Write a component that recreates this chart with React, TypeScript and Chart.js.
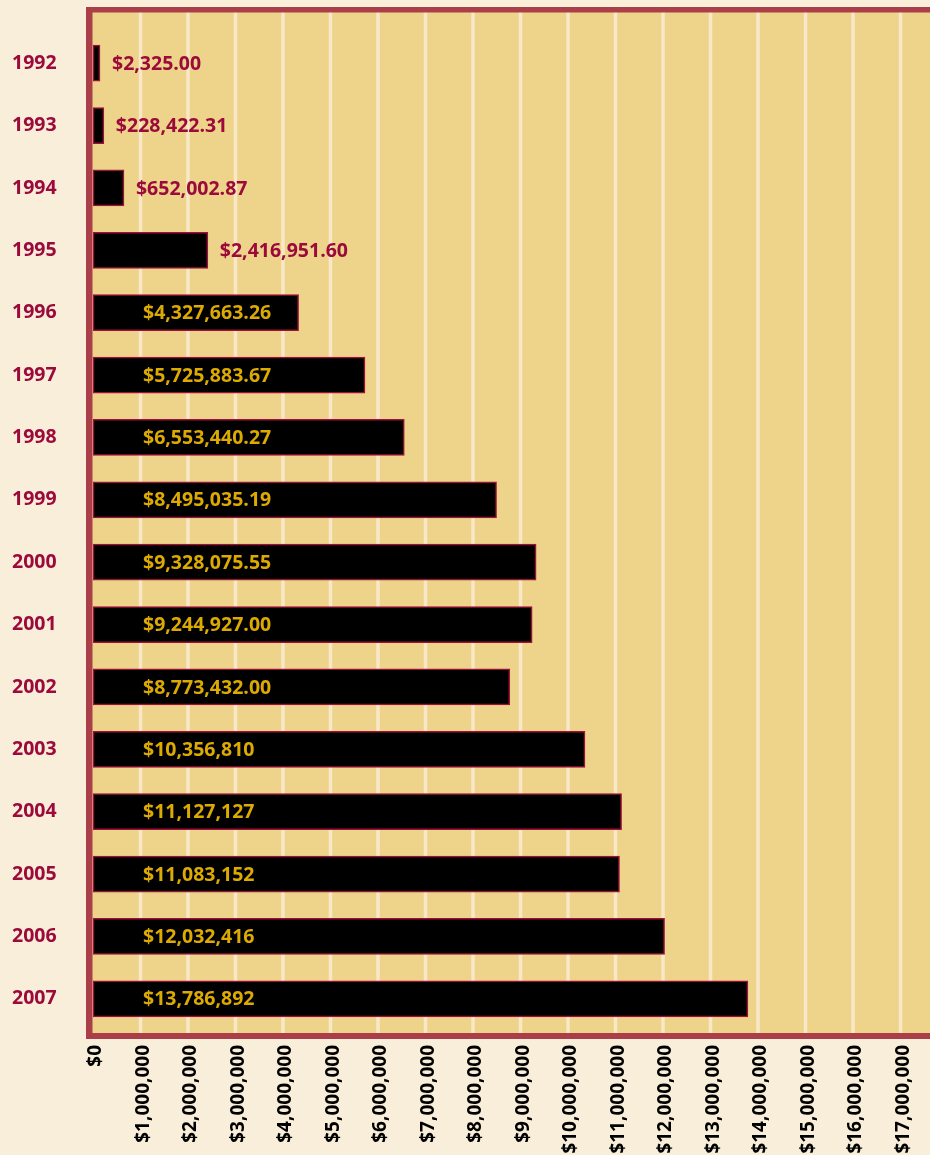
import React, { useEffect, useRef } from "react";
import { Chart, registerables } from "chart.js";

Chart.register(...registerables);

const years = ["1992","1993","1994","1995","1996","1997","1998","1999","2000","2001","2002","2003","2004","2005","2006","2007"];
const amounts = [2325.0, 228422.31, 652002.87, 2416951.6, 4327663.26, 5725883.67, 6553440.27, 8495035.19, 9328075.55, 9244927.0, 8773432.0, 10356810, 11127127, 11083152, 12032416, 13786892];
const valueLabels = ["$2,325.00","$228,422.31","$652,002.87","$2,416,951.60","$4,327,663.26","$5,725,883.67","$6,553,440.27","$8,495,035.19","$9,328,075.55","$9,244,927.00","$8,773,432.00","$10,356,810","$11,127,127","$11,083,152","$12,032,416","$13,786,892"];
const axisMax = 17620000;
const tickStep = 1000000;

const CREAM = "#f8eed9";
const TAN = "#edd48a";
const GRID = "#f8e8c8";
const FRAME = "#ab3f49";
const CRIMSON = "#9c0a3b";
const GOLD = "#dcaa00";
const FONT = "'Open Sans', 'Noto Sans', sans-serif";

const framePlugin = {
  id: "frame",
  beforeDraw(chart: any) {
    const { ctx, scales } = chart;
    const x = scales.x;
    const top = 12, bottom = 1033, left = 92, right = chart.width;
    ctx.save();
    ctx.fillStyle = CREAM;
    ctx.fillRect(0, 0, chart.width, chart.height);
    ctx.fillStyle = TAN;
    ctx.fillRect(left, top, right - left, bottom - top);
    ctx.strokeStyle = GRID;
    ctx.lineWidth = 3.5;
    x.ticks.forEach((t: any) => {
      if (t.value === 0) return;
      const px = x.getPixelForValue(t.value);
      ctx.beginPath();
      ctx.moveTo(px, top);
      ctx.lineTo(px, bottom);
      ctx.stroke();
    });
    ctx.fillStyle = FRAME;
    ctx.fillRect(86, 7, right - 86, 5.5);
    ctx.fillRect(86, 1033, right - 86, 6);
    ctx.fillRect(86, 7, 6.5, 1032);
    ctx.restore();
  },
  afterDatasetsDraw(chart: any) {
    const { ctx, chartArea } = chart;
    const meta = chart.getDatasetMeta(0);
    ctx.save();
    ctx.font = `bold 19.5px ${FONT}`;
    ctx.textBaseline = "middle";
    ctx.textAlign = "left";
    meta.data.forEach((bar: any, i: number) => {
      const v = amounts[i];
      if (v < 3000000) {
        ctx.fillStyle = CRIMSON;
        ctx.fillText(valueLabels[i], bar.x + 12, bar.y + 1);
      } else {
        ctx.fillStyle = GOLD;
        ctx.fillText(valueLabels[i], chartArea.left + 50, bar.y + 1);
      }
    });
    ctx.restore();
  },
};

export default function App() {
  const ref = useRef<HTMLCanvasElement | null>(null);
  useEffect(() => {
    document.body.style.margin = "0";
    document.body.style.background = CREAM;
    const canvas = ref.current!;
    const chart = new Chart(canvas, {
      type: "bar",
      data: {
        labels: years,
        datasets: [
          {
            data: amounts,
            backgroundColor: "#000000",
            borderColor: "#a0103a",
            borderWidth: 1.5,
            borderSkipped: false,
            barThickness: 36,
            minBarLength: 7,
          },
        ],
      },
      options: {
        indexAxis: "y",
        animation: false,
        responsive: false,
        maintainAspectRatio: false,
        layout: { padding: { left: 12, top: 32, right: 0, bottom: 0 } },
        plugins: { legend: { display: false }, tooltip: { enabled: false } },
        scales: {
          x: {
            type: "linear",
            min: 0,
            max: axisMax,
            afterBuildTicks(scale: any) {
              const t: any[] = [];
              for (let v = 0; v <= axisMax; v += tickStep) t.push({ value: v });
              scale.ticks = t;
            },
            afterFit(scale: any) {
              scale.height = 125;
              scale.paddingLeft = 0;
              scale.paddingRight = 0;
            },
            grid: { display: false, drawTicks: false },
            border: { display: false },
            ticks: {
              minRotation: 90,
              maxRotation: 90,
              autoSkip: false,
              padding: 15,
              labelOffset: 3,
              color: "#000000",
              font: { family: FONT, size: 19, weight: "bold" },
              callback: (v: any) => "$" + Number(v).toLocaleString("en-US"),
            },
          },
          y: {
            type: "category",
            afterFit(scale: any) {
              scale.width = 81;
            },
            grid: { display: false, drawTicks: false },
            border: { display: false },
            ticks: {
              crossAlign: "far",
              color: CRIMSON,
              font: { family: FONT, size: 19.5, weight: "bold" },
            },
          },
        },
      },
      plugins: [framePlugin],
    });
    return () => chart.destroy();
  }, []);
  return <canvas ref={ref} width={930} height={1155} style={{ display: "block", width: 930, height: 1155 }} />;
}
